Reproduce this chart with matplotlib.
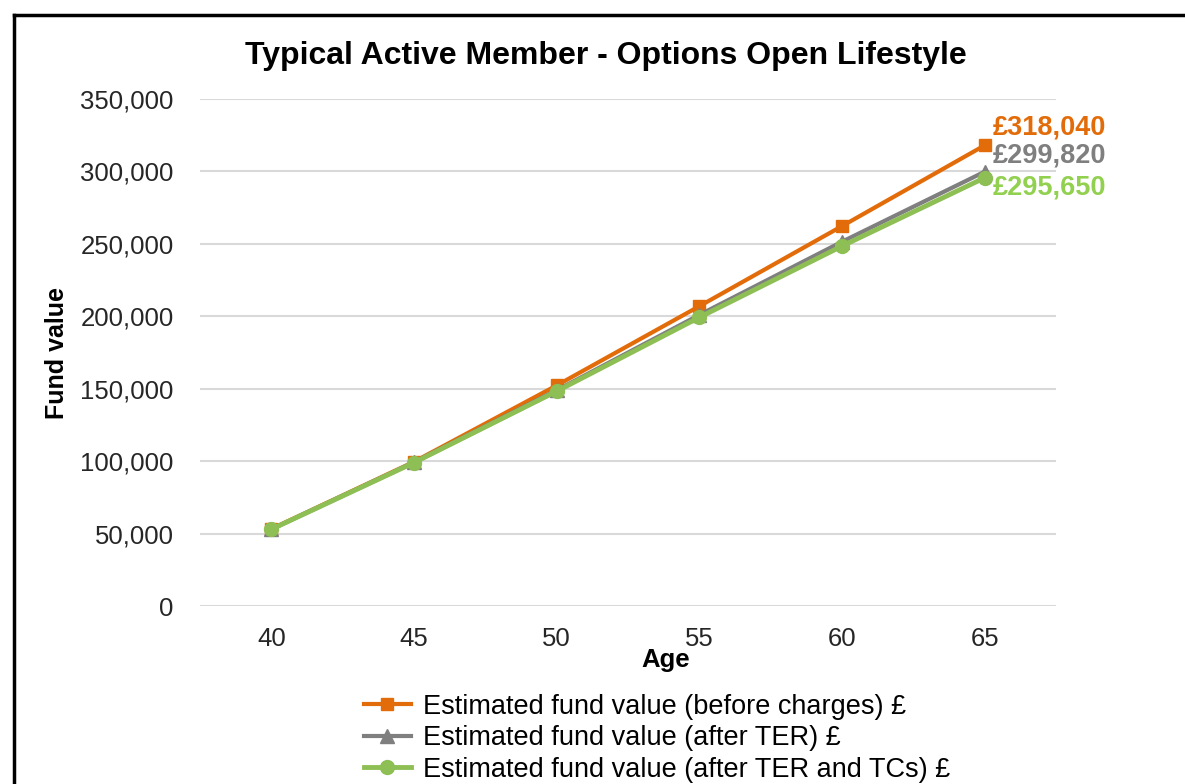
import matplotlib.pyplot as plt
from matplotlib.lines import Line2D

plt.rcParams['font.family'] = ['Liberation Sans', 'DejaVu Sans']

ages = [40, 45, 50, 55, 60, 65]
before_charges = [53200, 99600, 152300, 207000, 262300, 318040]
after_ter = [53000, 99200, 149000, 201000, 251500, 299820]
after_ter_tcs = [53000, 99000, 148300, 199300, 248500, 295650]

labels = ['Estimated fund value (before charges) £',
          'Estimated fund value (after TER) £',
          'Estimated fund value (after TER and TCs) £']
end_labels = ['£318,040', '£299,820', '£295,650']

orange = '#E36C0A'
grey = '#7F7F7F'
green = '#8DBF54'
green_text = '#92D050'

fig = plt.figure(figsize=(11.85, 7.84), dpi=100)
ax = fig.add_axes([0.1688, 0.2270, 0.7224, 0.6467])

x = list(range(len(ages)))
ax.plot(x, before_charges, color=orange, lw=3, marker='s', ms=9, label=labels[0], zorder=3)
ax.plot(x, after_ter, color=grey, lw=3, marker='^', ms=10, label=labels[1], zorder=4)
ax.plot(x, after_ter_tcs, color=green, lw=3.5, marker='o', ms=10, label=labels[2], zorder=5)

ax.set_xlim(-0.5, len(ages) - 0.5)
ax.set_ylim(0, 350000)
ax.set_xticks(x)
ax.set_xticklabels([str(a) for a in ages])
ax.set_yticks(range(0, 350001, 50000))
ax.set_yticklabels([f'{v:,}' for v in range(0, 350001, 50000)])
ax.tick_params(axis='both', length=0, labelsize=18.5, colors='#262626')
ax.tick_params(axis='y', pad=19)
ax.tick_params(axis='x', pad=15)
ax.grid(axis='y', color='#D9D9D9', lw=1.5)
ax.set_axisbelow(True)
for s in ax.spines.values():
    s.set_visible(False)

ax.set_title('Typical Active Member - Options Open Lifestyle', fontsize=23,
             fontweight='bold', pad=25, x=0.474)
ax.set_xlabel('Age', fontsize=18.5, fontweight='bold')
ax.xaxis.set_label_coords(0.544, -0.083)
ax.set_ylabel('Fund value', fontsize=18, fontweight='bold')
ax.yaxis.set_label_coords(-0.153, 0.5)

series = [before_charges, after_ter, after_ter_tcs]
colors = [orange, grey, green_text]
offsets = [(6, 13), (6, 12), (6, -7)]
for vals, c, lab, off in zip(series, colors, end_labels, offsets):
    ax.annotate(lab, (x[-1], vals[-1]), xytext=off, textcoords='offset points',
                color=c, fontsize=19.5, fontweight='bold', va='center', ha='left',
                annotation_clip=False)

fig.legend(loc='upper left', bbox_to_anchor=(0.307, 0.115), frameon=False,
           fontsize=19.5, handlelength=1.75, handletextpad=0.45, labelspacing=0.2,
           borderaxespad=0, borderpad=0)

fig.add_artist(Line2D([14 / 1185, 1], [1 - 15 / 784, 1 - 15 / 784],
                      transform=fig.transFigure, color='black', lw=2.5))
fig.add_artist(Line2D([14 / 1185, 14 / 1185], [0, 1 - 15 / 784],
                      transform=fig.transFigure, color='black', lw=2.5))

fig.savefig('out.png', dpi=100)
